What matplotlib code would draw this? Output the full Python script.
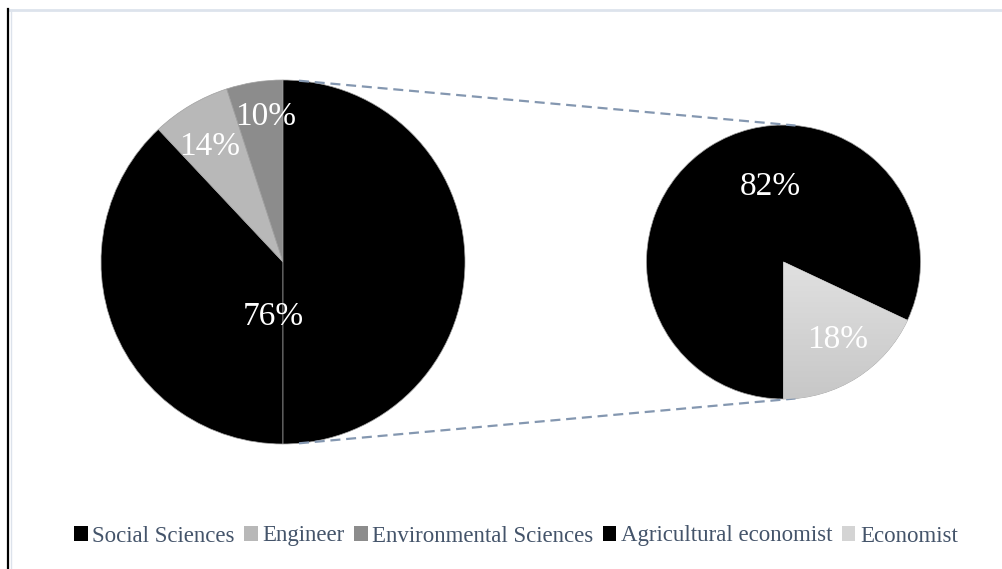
import numpy as np
import matplotlib
matplotlib.use("Agg")
import matplotlib.pyplot as plt
from matplotlib.patches import Patch
from matplotlib.lines import Line2D

# Discipline breakdown: main pie and the expanded sub-group
primary_labels = ["Social Sciences", "Engineer", "Environmental Sciences"]
primary_pct = [76, 14, 10]
secondary_labels = ["Agricultural economist", "Economist"]
secondary_pct = [82, 18]

primary_colors = ["#000000", "#b8b8b8", "#8c8c8c"]
secondary_colors = ["#000000", "#d4d4d4"]

plt.rcParams["font.family"] = ["Liberation Serif", "DejaVu Serif"]

W, H = 1002, 569
fig = plt.figure(figsize=(W / 100, H / 100), dpi=100)
ax = fig.add_axes([0, 0, 1, 1])
ax.set_xlim(0, W)
ax.set_ylim(0, H)
ax.axis("off")

left_c, left_r = (283, H - 262), 182
right_c, right_r = (783.5, H - 262), 137

edge = dict(edgecolor="#a0a0a0", linewidth=0.5)

# Main pie: the sub-group occupies one slice equal in weight to its total
main_vals = primary_pct + [sum(secondary_pct)]
main_cols = primary_colors + ["#000000"]
ax.pie(main_vals, colors=main_cols, startangle=270, counterclock=False,
       center=left_c, radius=left_r, wedgeprops=edge, frame=True)

# Expanded sub-group pie
wedges, _ = ax.pie(secondary_pct, colors=secondary_colors, startangle=270,
                   counterclock=False, center=right_c, radius=right_r,
                   wedgeprops=edge, frame=True)

# soft vertical gradient on the light slice
eco = wedges[1]
grad = np.linspace(0.88, 0.78, 256).reshape(-1, 1)
img = ax.imshow(np.dstack([grad, grad, grad]), extent=(right_c[0], right_c[0] + right_r,
                right_c[1] - right_r, right_c[1]), origin="upper", aspect="auto",
                zorder=eco.get_zorder() + 0.1)
img.set_clip_path(eco)

ax.set_xlim(0, W)
ax.set_ylim(0, H)
ax.set_aspect("auto")

# Slice labels
lab_style = dict(color="white", fontsize=24, ha="center", va="baseline", zorder=10)
main_pos = [(273, 325), (210, 155), (266, 125)]
for v, (x, y) in zip(primary_pct, main_pos):
    ax.text(x, H - y, f"{v}%", **lab_style)
sub_pos = [(770, 195), (838, 348)]
for v, (x, y) in zip(secondary_pct, sub_pos):
    ax.text(x, H - y, f"{v}%", **lab_style)

# Connector lines between the pies
conn = dict(color="#8497b0", linewidth=1.6, linestyle=(0, (4.5, 2.6)), zorder=1)
dx1, dx2 = 16, 12
for sgn in (1, -1):
    y1 = left_c[1] + sgn * np.sqrt(left_r ** 2 - dx1 ** 2)
    y2 = right_c[1] + sgn * np.sqrt(right_r ** 2 - dx2 ** 2)
    ax.add_line(Line2D([left_c[0] + dx1, right_c[0] + dx2], [y1, y2], **conn))

# Legend
handles = [Patch(facecolor=c, edgecolor="none") for c in primary_colors + secondary_colors]
leg = fig.legend(handles, primary_labels + secondary_labels, loc="center",
                 bbox_to_anchor=(516 / W, 1 - 536 / H), ncol=5, frameon=False,
                 prop={"family": "Liberation Serif", "size": 16.5},
                 handlelength=0.6, handleheight=0.6,
                 handletextpad=0.2, columnspacing=0.4, borderpad=0)
for t in leg.get_texts():
    t.set_color("#44546a")

# Outer frame lines
fig.add_artist(Line2D([8 / W, 1], [1 - 10 / H, 1 - 10 / H], color="#dde3ec",
                      linewidth=2, transform=fig.transFigure))
fig.add_artist(Line2D([10.5 / W, 10.5 / W], [0, 1 - 10 / H], color="#dde3ec",
                      linewidth=1, transform=fig.transFigure))
fig.add_artist(Line2D([8 / W, 8 / W], [0, 1 - 9 / H], color="#000000",
                      linewidth=1.6, transform=fig.transFigure))

fig.savefig("out.png", dpi=100)
